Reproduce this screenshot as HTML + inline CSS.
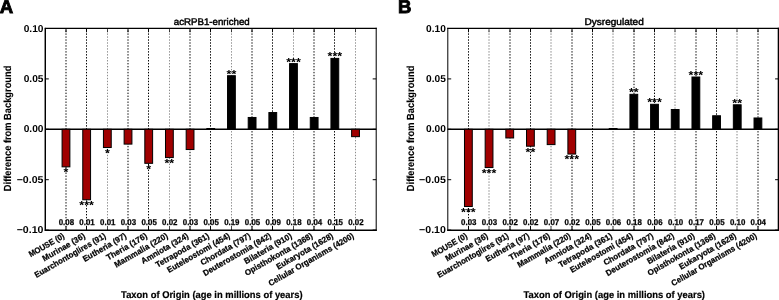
<!DOCTYPE html>
<html><head><meta charset="utf-8"><style>
html,body{margin:0;padding:0;background:#fff;width:779px;height:300px;overflow:hidden}
svg{display:block;will-change:transform}
text{font-family:"Liberation Sans",sans-serif;fill:#000;text-rendering:geometricPrecision}
</style></head><body>
<svg width="779" height="300" viewBox="0 0 779 300" font-family="Liberation Sans, sans-serif"><path d="M66 230.25V28.45M86.5 230.25V28.45M128 230.25V28.45M148.5 230.25V28.45M190 230.25V28.45M210.5 230.25V28.45M252 230.25V28.45M272.5 230.25V28.45M314 230.25V28.45M334.5 230.25V28.45" stroke="#000" stroke-width="1.0" stroke-dasharray="1.4 1.560" stroke-dashoffset="-0.070" fill="none"/>
<path d="M107.5 230.25V28.45M169.5 230.25V28.45M231.5 230.25V28.45M293.5 230.25V28.45M355.5 230.25V28.45" stroke="#000" stroke-width="0.45" stroke-dasharray="1.4 1.560" stroke-dashoffset="-0.070" fill="none"/>
<path d="M45.3 129.3H376.2" stroke="#000" stroke-width="1.4"/>
<rect x="62.08" y="129.30" width="7.80" height="37.54" fill="#a00000" stroke="#000" stroke-width="1"/>
<rect x="82.76" y="129.30" width="7.80" height="70.46" fill="#a00000" stroke="#000" stroke-width="1"/>
<rect x="103.44" y="129.30" width="7.80" height="18.22" fill="#a00000" stroke="#000" stroke-width="1"/>
<rect x="124.12" y="129.30" width="7.80" height="14.80" fill="#a00000" stroke="#000" stroke-width="1"/>
<rect x="144.81" y="129.30" width="7.80" height="34.02" fill="#a00000" stroke="#000" stroke-width="1"/>
<rect x="165.49" y="129.30" width="7.80" height="28.28" fill="#a00000" stroke="#000" stroke-width="1"/>
<rect x="186.17" y="129.30" width="7.80" height="20.23" fill="#a00000" stroke="#000" stroke-width="1"/>
<rect x="206.85" y="128.50" width="7.80" height="0.80" fill="#000" stroke="#000" stroke-width="1"/>
<rect x="227.53" y="75.70" width="7.80" height="53.60" fill="#000" stroke="#000" stroke-width="1"/>
<rect x="248.21" y="117.47" width="7.80" height="11.83" fill="#000" stroke="#000" stroke-width="1"/>
<rect x="268.89" y="112.54" width="7.80" height="16.76" fill="#000" stroke="#000" stroke-width="1"/>
<rect x="289.57" y="63.62" width="7.80" height="65.68" fill="#000" stroke="#000" stroke-width="1"/>
<rect x="310.26" y="117.47" width="7.80" height="11.83" fill="#000" stroke="#000" stroke-width="1"/>
<rect x="330.94" y="58.39" width="7.80" height="70.91" fill="#000" stroke="#000" stroke-width="1"/>
<rect x="351.62" y="129.30" width="7.80" height="7.35" fill="#a00000" stroke="#000" stroke-width="1"/>
<path d="M66 230.25v-4M66 28.45v3.8" stroke="#000" stroke-width="1.0"/>
<path d="M86.5 230.25v-4M86.5 28.45v3.8" stroke="#000" stroke-width="1.0"/>
<path d="M107.5 230.25v-4M107.5 28.45v3.8" stroke="#000" stroke-width="0.7"/>
<path d="M128 230.25v-4M128 28.45v3.8" stroke="#000" stroke-width="1.0"/>
<path d="M148.5 230.25v-4M148.5 28.45v3.8" stroke="#000" stroke-width="1.0"/>
<path d="M169.5 230.25v-4M169.5 28.45v3.8" stroke="#000" stroke-width="0.7"/>
<path d="M190 230.25v-4M190 28.45v3.8" stroke="#000" stroke-width="1.0"/>
<path d="M210.5 230.25v-4M210.5 28.45v3.8" stroke="#000" stroke-width="1.0"/>
<path d="M231.5 230.25v-4M231.5 28.45v3.8" stroke="#000" stroke-width="0.7"/>
<path d="M252 230.25v-4M252 28.45v3.8" stroke="#000" stroke-width="1.0"/>
<path d="M272.5 230.25v-4M272.5 28.45v3.8" stroke="#000" stroke-width="1.0"/>
<path d="M293.5 230.25v-4M293.5 28.45v3.8" stroke="#000" stroke-width="0.7"/>
<path d="M314 230.25v-4M314 28.45v3.8" stroke="#000" stroke-width="1.0"/>
<path d="M334.5 230.25v-4M334.5 28.45v3.8" stroke="#000" stroke-width="1.0"/>
<path d="M355.5 230.25v-4M355.5 28.45v3.8" stroke="#000" stroke-width="0.7"/>
<path d="M45.3 28.50h3.5M376.2 28.50h-3.5M45.3 78.90h3.5M376.2 78.90h-3.5M45.3 129.30h3.5M376.2 129.30h-3.5M45.3 179.70h3.5M376.2 179.70h-3.5M45.3 230.10h3.5M376.2 230.10h-3.5" stroke="#000" stroke-width="1.0"/>
<path d="M44.849999999999994 28.45H376.7" stroke="#000" stroke-width="1.3"/>
<path d="M44.849999999999994 230.25H376.7" stroke="#000" stroke-width="1.5"/>
<path d="M45.28 27.849999999999998V230.95" stroke="#000" stroke-width="1.45"/>
<path d="M376.2 27.849999999999998V230.95" stroke="#000" stroke-width="1.03"/>
<text x="65.98" y="176.27" font-size="11.7" font-weight="bold" text-anchor="middle" textLength="4.86" lengthAdjust="spacingAndGlyphs">*</text>
<text x="86.66" y="209.18" font-size="11.7" font-weight="bold" text-anchor="middle" textLength="14.58" lengthAdjust="spacingAndGlyphs">***</text>
<text x="107.34" y="156.94" font-size="11.7" font-weight="bold" text-anchor="middle" textLength="4.86" lengthAdjust="spacingAndGlyphs">*</text>
<text x="148.71" y="172.75" font-size="11.7" font-weight="bold" text-anchor="middle" textLength="4.86" lengthAdjust="spacingAndGlyphs">*</text>
<text x="169.39" y="167.01" font-size="11.7" font-weight="bold" text-anchor="middle" textLength="9.72" lengthAdjust="spacingAndGlyphs">**</text>
<text x="231.43" y="77.58" font-size="11.7" font-weight="bold" text-anchor="middle" textLength="9.72" lengthAdjust="spacingAndGlyphs">**</text>
<text x="293.47" y="65.50" font-size="11.7" font-weight="bold" text-anchor="middle" textLength="14.58" lengthAdjust="spacingAndGlyphs">***</text>
<text x="334.84" y="60.26" font-size="11.7" font-weight="bold" text-anchor="middle" textLength="14.58" lengthAdjust="spacingAndGlyphs">***</text>
<text x="66.38" y="225.00" font-size="8.4" font-weight="bold" text-anchor="middle" textLength="15.40" lengthAdjust="spacingAndGlyphs" stroke="#000" stroke-width="0.25">0.08</text>
<text x="87.06" y="225.00" font-size="8.4" font-weight="bold" text-anchor="middle" textLength="15.40" lengthAdjust="spacingAndGlyphs" stroke="#000" stroke-width="0.25">0.01</text>
<text x="107.74" y="225.00" font-size="8.4" font-weight="bold" text-anchor="middle" textLength="15.40" lengthAdjust="spacingAndGlyphs" stroke="#000" stroke-width="0.25">0.01</text>
<text x="128.42" y="225.00" font-size="8.4" font-weight="bold" text-anchor="middle" textLength="15.40" lengthAdjust="spacingAndGlyphs" stroke="#000" stroke-width="0.25">0.03</text>
<text x="149.11" y="225.00" font-size="8.4" font-weight="bold" text-anchor="middle" textLength="15.40" lengthAdjust="spacingAndGlyphs" stroke="#000" stroke-width="0.25">0.05</text>
<text x="169.79" y="225.00" font-size="8.4" font-weight="bold" text-anchor="middle" textLength="15.40" lengthAdjust="spacingAndGlyphs" stroke="#000" stroke-width="0.25">0.02</text>
<text x="190.47" y="225.00" font-size="8.4" font-weight="bold" text-anchor="middle" textLength="15.40" lengthAdjust="spacingAndGlyphs" stroke="#000" stroke-width="0.25">0.03</text>
<text x="211.15" y="225.00" font-size="8.4" font-weight="bold" text-anchor="middle" textLength="15.40" lengthAdjust="spacingAndGlyphs" stroke="#000" stroke-width="0.25">0.05</text>
<text x="231.83" y="225.00" font-size="8.4" font-weight="bold" text-anchor="middle" textLength="15.40" lengthAdjust="spacingAndGlyphs" stroke="#000" stroke-width="0.25">0.19</text>
<text x="252.51" y="225.00" font-size="8.4" font-weight="bold" text-anchor="middle" textLength="15.40" lengthAdjust="spacingAndGlyphs" stroke="#000" stroke-width="0.25">0.05</text>
<text x="273.19" y="225.00" font-size="8.4" font-weight="bold" text-anchor="middle" textLength="15.40" lengthAdjust="spacingAndGlyphs" stroke="#000" stroke-width="0.25">0.09</text>
<text x="293.87" y="225.00" font-size="8.4" font-weight="bold" text-anchor="middle" textLength="15.40" lengthAdjust="spacingAndGlyphs" stroke="#000" stroke-width="0.25">0.18</text>
<text x="314.56" y="225.00" font-size="8.4" font-weight="bold" text-anchor="middle" textLength="15.40" lengthAdjust="spacingAndGlyphs" stroke="#000" stroke-width="0.25">0.04</text>
<text x="335.24" y="225.00" font-size="8.4" font-weight="bold" text-anchor="middle" textLength="15.40" lengthAdjust="spacingAndGlyphs" stroke="#000" stroke-width="0.25">0.15</text>
<text x="355.92" y="225.00" font-size="8.4" font-weight="bold" text-anchor="middle" textLength="15.40" lengthAdjust="spacingAndGlyphs" stroke="#000" stroke-width="0.25">0.02</text>
<text x="43.50" y="32.00" font-size="10" font-weight="bold" text-anchor="end" textLength="19.80" lengthAdjust="spacingAndGlyphs">0.10</text>
<text x="43.50" y="82.00" font-size="10" font-weight="bold" text-anchor="end" textLength="19.80" lengthAdjust="spacingAndGlyphs">0.05</text>
<text x="43.50" y="132.00" font-size="10" font-weight="bold" text-anchor="end" textLength="19.80" lengthAdjust="spacingAndGlyphs">0.00</text>
<text x="43.50" y="183.00" font-size="10" font-weight="bold" text-anchor="end" textLength="26.80" lengthAdjust="spacingAndGlyphs">−0.05</text>
<text x="43.50" y="233.00" font-size="10" font-weight="bold" text-anchor="end" textLength="26.80" lengthAdjust="spacingAndGlyphs">−0.10</text>
<text x="211.75" y="24.60" font-size="9.6" text-anchor="middle" textLength="76.00" lengthAdjust="spacingAndGlyphs" stroke="#000" stroke-width="0.45">acRPB1-enriched</text>
<g transform="translate(65.08,237.5) rotate(-30)"><text x="0" y="0" font-size="8.2" font-weight="bold" stroke="#000" stroke-width="0.25" text-anchor="end" textLength="39.72" lengthAdjust="spacingAndGlyphs">MOUSE (0)</text></g>
<g transform="translate(85.76,237.5) rotate(-30)"><text x="0" y="0" font-size="8.2" font-weight="bold" stroke="#000" stroke-width="0.25" text-anchor="end" textLength="47.93" lengthAdjust="spacingAndGlyphs">Murinae (36)</text></g>
<g transform="translate(106.44,237.5) rotate(-30)"><text x="0" y="0" font-size="8.2" font-weight="bold" stroke="#000" stroke-width="0.25" text-anchor="end" textLength="80.87" lengthAdjust="spacingAndGlyphs">Euarchontoglires (91)</text></g>
<g transform="translate(127.12,237.5) rotate(-30)"><text x="0" y="0" font-size="8.2" font-weight="bold" stroke="#000" stroke-width="0.25" text-anchor="end" textLength="49.02" lengthAdjust="spacingAndGlyphs">Eutheria (97)</text></g>
<g transform="translate(147.81,237.5) rotate(-30)"><text x="0" y="0" font-size="8.2" font-weight="bold" stroke="#000" stroke-width="0.25" text-anchor="end" textLength="45.76" lengthAdjust="spacingAndGlyphs">Theria (176)</text></g>
<g transform="translate(168.49,237.5) rotate(-30)"><text x="0" y="0" font-size="8.2" font-weight="bold" stroke="#000" stroke-width="0.25" text-anchor="end" textLength="60.32" lengthAdjust="spacingAndGlyphs">Mammalia (220)</text></g>
<g transform="translate(189.17,237.5) rotate(-30)"><text x="0" y="0" font-size="8.2" font-weight="bold" stroke="#000" stroke-width="0.25" text-anchor="end" textLength="53.20" lengthAdjust="spacingAndGlyphs">Amniota (324)</text></g>
<g transform="translate(209.85,237.5) rotate(-30)"><text x="0" y="0" font-size="8.2" font-weight="bold" stroke="#000" stroke-width="0.25" text-anchor="end" textLength="60.39" lengthAdjust="spacingAndGlyphs">Tetrapoda (361)</text></g>
<g transform="translate(230.53,237.5) rotate(-30)"><text x="0" y="0" font-size="8.2" font-weight="bold" stroke="#000" stroke-width="0.25" text-anchor="end" textLength="70.98" lengthAdjust="spacingAndGlyphs">Euteleostomi (454)</text></g>
<g transform="translate(251.21,237.5) rotate(-30)"><text x="0" y="0" font-size="8.2" font-weight="bold" stroke="#000" stroke-width="0.25" text-anchor="end" textLength="56.23" lengthAdjust="spacingAndGlyphs">Chordata (797)</text></g>
<g transform="translate(271.89,237.5) rotate(-30)"><text x="0" y="0" font-size="8.2" font-weight="bold" stroke="#000" stroke-width="0.25" text-anchor="end" textLength="77.39" lengthAdjust="spacingAndGlyphs">Deuterostomia (842)</text></g>
<g transform="translate(292.57,237.5) rotate(-30)"><text x="0" y="0" font-size="8.2" font-weight="bold" stroke="#000" stroke-width="0.25" text-anchor="end" textLength="53.72" lengthAdjust="spacingAndGlyphs">Bilateria (910)</text></g>
<g transform="translate(313.26,237.5) rotate(-30)"><text x="0" y="0" font-size="8.2" font-weight="bold" stroke="#000" stroke-width="0.25" text-anchor="end" textLength="76.84" lengthAdjust="spacingAndGlyphs">Opisthokonta (1368)</text></g>
<g transform="translate(333.94,237.5) rotate(-30)"><text x="0" y="0" font-size="8.2" font-weight="bold" stroke="#000" stroke-width="0.25" text-anchor="end" textLength="64.45" lengthAdjust="spacingAndGlyphs">Eukaryota (1628)</text></g>
<g transform="translate(354.62,237.5) rotate(-30)"><text x="0" y="0" font-size="8.2" font-weight="bold" stroke="#000" stroke-width="0.25" text-anchor="end" textLength="97.25" lengthAdjust="spacingAndGlyphs">Cellular Organisms (4200)</text></g>
<text x="211.85" y="298.00" font-size="9.8" font-weight="bold" text-anchor="middle" textLength="181.50" lengthAdjust="spacingAndGlyphs" stroke="#000" stroke-width="0.2">Taxon of Origin (age in millions of years)</text>
<g transform="translate(11,128.4) rotate(-90)"><text x="0" y="0" font-size="10.3" font-weight="bold" text-anchor="middle" textLength="125.5" lengthAdjust="spacingAndGlyphs" stroke="#000" stroke-width="0.1">Difference from Background</text></g>
<path d="M468.5 230.25V28.45M510 230.25V28.45M530.5 230.25V28.45M572 230.25V28.45M592.5 230.25V28.45M634 230.25V28.45M654.5 230.25V28.45M696 230.25V28.45M716.5 230.25V28.45M758 230.25V28.45" stroke="#000" stroke-width="1.0" stroke-dasharray="1.4 1.560" stroke-dashoffset="-0.070" fill="none"/>
<path d="M489 230.25V28.45M551 230.25V28.45M613 230.25V28.45M675 230.25V28.45M737 230.25V28.45" stroke="#000" stroke-width="0.5" stroke-dasharray="1.4 1.560" stroke-dashoffset="-0.070" fill="none"/>
<path d="M447.7 129.3H778.5999999999999" stroke="#000" stroke-width="1.4"/>
<rect x="464.48" y="129.30" width="7.80" height="77.20" fill="#a00000" stroke="#000" stroke-width="1"/>
<rect x="485.16" y="129.30" width="7.80" height="38.25" fill="#a00000" stroke="#000" stroke-width="1"/>
<rect x="505.84" y="129.30" width="7.80" height="8.66" fill="#a00000" stroke="#000" stroke-width="1"/>
<rect x="526.52" y="129.30" width="7.80" height="16.91" fill="#a00000" stroke="#000" stroke-width="1"/>
<rect x="547.21" y="129.30" width="7.80" height="15.30" fill="#a00000" stroke="#000" stroke-width="1"/>
<rect x="567.89" y="129.30" width="7.80" height="24.76" fill="#a00000" stroke="#000" stroke-width="1"/>
<rect x="609.25" y="128.50" width="7.80" height="0.80" fill="#000" stroke="#000" stroke-width="1"/>
<rect x="629.93" y="94.32" width="7.80" height="34.98" fill="#000" stroke="#000" stroke-width="1"/>
<rect x="650.61" y="104.29" width="7.80" height="25.01" fill="#000" stroke="#000" stroke-width="1"/>
<rect x="671.29" y="109.52" width="7.80" height="19.78" fill="#000" stroke="#000" stroke-width="1"/>
<rect x="691.98" y="77.01" width="7.80" height="52.29" fill="#000" stroke="#000" stroke-width="1"/>
<rect x="712.66" y="115.76" width="7.80" height="13.54" fill="#000" stroke="#000" stroke-width="1"/>
<rect x="733.34" y="104.79" width="7.80" height="24.51" fill="#000" stroke="#000" stroke-width="1"/>
<rect x="754.02" y="117.98" width="7.80" height="11.32" fill="#000" stroke="#000" stroke-width="1"/>
<path d="M468.5 230.25v-4M468.5 28.45v3.8" stroke="#000" stroke-width="1.0"/>
<path d="M489 230.25v-4M489 28.45v3.8" stroke="#000" stroke-width="0.7"/>
<path d="M510 230.25v-4M510 28.45v3.8" stroke="#000" stroke-width="1.0"/>
<path d="M530.5 230.25v-4M530.5 28.45v3.8" stroke="#000" stroke-width="1.0"/>
<path d="M551 230.25v-4M551 28.45v3.8" stroke="#000" stroke-width="0.7"/>
<path d="M572 230.25v-4M572 28.45v3.8" stroke="#000" stroke-width="1.0"/>
<path d="M592.5 230.25v-4M592.5 28.45v3.8" stroke="#000" stroke-width="1.0"/>
<path d="M613 230.25v-4M613 28.45v3.8" stroke="#000" stroke-width="0.7"/>
<path d="M634 230.25v-4M634 28.45v3.8" stroke="#000" stroke-width="1.0"/>
<path d="M654.5 230.25v-4M654.5 28.45v3.8" stroke="#000" stroke-width="1.0"/>
<path d="M675 230.25v-4M675 28.45v3.8" stroke="#000" stroke-width="0.7"/>
<path d="M696 230.25v-4M696 28.45v3.8" stroke="#000" stroke-width="1.0"/>
<path d="M716.5 230.25v-4M716.5 28.45v3.8" stroke="#000" stroke-width="1.0"/>
<path d="M737 230.25v-4M737 28.45v3.8" stroke="#000" stroke-width="0.7"/>
<path d="M758 230.25v-4M758 28.45v3.8" stroke="#000" stroke-width="1.0"/>
<path d="M447.7 28.50h3.5M778.5999999999999 28.50h-3.5M447.7 78.90h3.5M778.5999999999999 78.90h-3.5M447.7 129.30h3.5M778.5999999999999 129.30h-3.5M447.7 179.70h3.5M778.5999999999999 179.70h-3.5M447.7 230.10h3.5M778.5999999999999 230.10h-3.5" stroke="#000" stroke-width="1.0"/>
<path d="M447.25 28.45H779.0999999999999" stroke="#000" stroke-width="1.3"/>
<path d="M447.25 230.25H779.0999999999999" stroke="#000" stroke-width="1.5"/>
<path d="M447.8 27.849999999999998V230.95" stroke="#000" stroke-width="1.0"/>
<path d="M778.35 27.849999999999998V230.95" stroke="#000" stroke-width="1.3"/>
<text x="468.38" y="215.92" font-size="11.7" font-weight="bold" text-anchor="middle" textLength="14.58" lengthAdjust="spacingAndGlyphs">***</text>
<text x="489.06" y="176.97" font-size="11.7" font-weight="bold" text-anchor="middle" textLength="14.58" lengthAdjust="spacingAndGlyphs">***</text>
<text x="530.42" y="155.63" font-size="11.7" font-weight="bold" text-anchor="middle" textLength="9.72" lengthAdjust="spacingAndGlyphs">**</text>
<text x="571.79" y="163.49" font-size="11.7" font-weight="bold" text-anchor="middle" textLength="14.58" lengthAdjust="spacingAndGlyphs">***</text>
<text x="633.83" y="96.20" font-size="11.7" font-weight="bold" text-anchor="middle" textLength="9.72" lengthAdjust="spacingAndGlyphs">**</text>
<text x="654.51" y="106.16" font-size="11.7" font-weight="bold" text-anchor="middle" textLength="14.58" lengthAdjust="spacingAndGlyphs">***</text>
<text x="695.88" y="78.88" font-size="11.7" font-weight="bold" text-anchor="middle" textLength="14.58" lengthAdjust="spacingAndGlyphs">***</text>
<text x="737.24" y="106.66" font-size="11.7" font-weight="bold" text-anchor="middle" textLength="9.72" lengthAdjust="spacingAndGlyphs">**</text>
<text x="468.78" y="225.00" font-size="8.4" font-weight="bold" text-anchor="middle" textLength="15.40" lengthAdjust="spacingAndGlyphs" stroke="#000" stroke-width="0.25">0.03</text>
<text x="489.46" y="225.00" font-size="8.4" font-weight="bold" text-anchor="middle" textLength="15.40" lengthAdjust="spacingAndGlyphs" stroke="#000" stroke-width="0.25">0.03</text>
<text x="510.14" y="225.00" font-size="8.4" font-weight="bold" text-anchor="middle" textLength="15.40" lengthAdjust="spacingAndGlyphs" stroke="#000" stroke-width="0.25">0.02</text>
<text x="530.82" y="225.00" font-size="8.4" font-weight="bold" text-anchor="middle" textLength="15.40" lengthAdjust="spacingAndGlyphs" stroke="#000" stroke-width="0.25">0.02</text>
<text x="551.51" y="225.00" font-size="8.4" font-weight="bold" text-anchor="middle" textLength="15.40" lengthAdjust="spacingAndGlyphs" stroke="#000" stroke-width="0.25">0.07</text>
<text x="572.19" y="225.00" font-size="8.4" font-weight="bold" text-anchor="middle" textLength="15.40" lengthAdjust="spacingAndGlyphs" stroke="#000" stroke-width="0.25">0.02</text>
<text x="592.87" y="225.00" font-size="8.4" font-weight="bold" text-anchor="middle" textLength="15.40" lengthAdjust="spacingAndGlyphs" stroke="#000" stroke-width="0.25">0.05</text>
<text x="613.55" y="225.00" font-size="8.4" font-weight="bold" text-anchor="middle" textLength="15.40" lengthAdjust="spacingAndGlyphs" stroke="#000" stroke-width="0.25">0.06</text>
<text x="634.23" y="225.00" font-size="8.4" font-weight="bold" text-anchor="middle" textLength="15.40" lengthAdjust="spacingAndGlyphs" stroke="#000" stroke-width="0.25">0.18</text>
<text x="654.91" y="225.00" font-size="8.4" font-weight="bold" text-anchor="middle" textLength="15.40" lengthAdjust="spacingAndGlyphs" stroke="#000" stroke-width="0.25">0.06</text>
<text x="675.59" y="225.00" font-size="8.4" font-weight="bold" text-anchor="middle" textLength="15.40" lengthAdjust="spacingAndGlyphs" stroke="#000" stroke-width="0.25">0.10</text>
<text x="696.27" y="225.00" font-size="8.4" font-weight="bold" text-anchor="middle" textLength="15.40" lengthAdjust="spacingAndGlyphs" stroke="#000" stroke-width="0.25">0.17</text>
<text x="716.96" y="225.00" font-size="8.4" font-weight="bold" text-anchor="middle" textLength="15.40" lengthAdjust="spacingAndGlyphs" stroke="#000" stroke-width="0.25">0.05</text>
<text x="737.64" y="225.00" font-size="8.4" font-weight="bold" text-anchor="middle" textLength="15.40" lengthAdjust="spacingAndGlyphs" stroke="#000" stroke-width="0.25">0.10</text>
<text x="758.32" y="225.00" font-size="8.4" font-weight="bold" text-anchor="middle" textLength="15.40" lengthAdjust="spacingAndGlyphs" stroke="#000" stroke-width="0.25">0.04</text>
<text x="445.90" y="32.00" font-size="10" font-weight="bold" text-anchor="end" textLength="19.80" lengthAdjust="spacingAndGlyphs">0.10</text>
<text x="445.90" y="82.00" font-size="10" font-weight="bold" text-anchor="end" textLength="19.80" lengthAdjust="spacingAndGlyphs">0.05</text>
<text x="445.90" y="132.00" font-size="10" font-weight="bold" text-anchor="end" textLength="19.80" lengthAdjust="spacingAndGlyphs">0.00</text>
<text x="445.90" y="183.00" font-size="10" font-weight="bold" text-anchor="end" textLength="26.80" lengthAdjust="spacingAndGlyphs">−0.05</text>
<text x="445.90" y="233.00" font-size="10" font-weight="bold" text-anchor="end" textLength="26.80" lengthAdjust="spacingAndGlyphs">−0.10</text>
<text x="614.15" y="24.60" font-size="9.6" text-anchor="middle" textLength="59.20" lengthAdjust="spacingAndGlyphs" stroke="#000" stroke-width="0.45">Dysregulated</text>
<g transform="translate(467.98,237.5) rotate(-30)"><text x="0" y="0" font-size="8.2" font-weight="bold" stroke="#000" stroke-width="0.25" text-anchor="end" textLength="39.72" lengthAdjust="spacingAndGlyphs">MOUSE (0)</text></g>
<g transform="translate(488.66,237.5) rotate(-30)"><text x="0" y="0" font-size="8.2" font-weight="bold" stroke="#000" stroke-width="0.25" text-anchor="end" textLength="47.93" lengthAdjust="spacingAndGlyphs">Murinae (36)</text></g>
<g transform="translate(509.34,237.5) rotate(-30)"><text x="0" y="0" font-size="8.2" font-weight="bold" stroke="#000" stroke-width="0.25" text-anchor="end" textLength="80.87" lengthAdjust="spacingAndGlyphs">Euarchontoglires (91)</text></g>
<g transform="translate(530.02,237.5) rotate(-30)"><text x="0" y="0" font-size="8.2" font-weight="bold" stroke="#000" stroke-width="0.25" text-anchor="end" textLength="49.02" lengthAdjust="spacingAndGlyphs">Eutheria (97)</text></g>
<g transform="translate(550.71,237.5) rotate(-30)"><text x="0" y="0" font-size="8.2" font-weight="bold" stroke="#000" stroke-width="0.25" text-anchor="end" textLength="45.76" lengthAdjust="spacingAndGlyphs">Theria (176)</text></g>
<g transform="translate(571.39,237.5) rotate(-30)"><text x="0" y="0" font-size="8.2" font-weight="bold" stroke="#000" stroke-width="0.25" text-anchor="end" textLength="60.32" lengthAdjust="spacingAndGlyphs">Mammalia (220)</text></g>
<g transform="translate(592.07,237.5) rotate(-30)"><text x="0" y="0" font-size="8.2" font-weight="bold" stroke="#000" stroke-width="0.25" text-anchor="end" textLength="53.20" lengthAdjust="spacingAndGlyphs">Amniota (324)</text></g>
<g transform="translate(612.75,237.5) rotate(-30)"><text x="0" y="0" font-size="8.2" font-weight="bold" stroke="#000" stroke-width="0.25" text-anchor="end" textLength="60.39" lengthAdjust="spacingAndGlyphs">Tetrapoda (361)</text></g>
<g transform="translate(633.43,237.5) rotate(-30)"><text x="0" y="0" font-size="8.2" font-weight="bold" stroke="#000" stroke-width="0.25" text-anchor="end" textLength="70.98" lengthAdjust="spacingAndGlyphs">Euteleostomi (454)</text></g>
<g transform="translate(654.11,237.5) rotate(-30)"><text x="0" y="0" font-size="8.2" font-weight="bold" stroke="#000" stroke-width="0.25" text-anchor="end" textLength="56.23" lengthAdjust="spacingAndGlyphs">Chordata (797)</text></g>
<g transform="translate(674.79,237.5) rotate(-30)"><text x="0" y="0" font-size="8.2" font-weight="bold" stroke="#000" stroke-width="0.25" text-anchor="end" textLength="77.39" lengthAdjust="spacingAndGlyphs">Deuterostomia (842)</text></g>
<g transform="translate(695.48,237.5) rotate(-30)"><text x="0" y="0" font-size="8.2" font-weight="bold" stroke="#000" stroke-width="0.25" text-anchor="end" textLength="53.72" lengthAdjust="spacingAndGlyphs">Bilateria (910)</text></g>
<g transform="translate(716.16,237.5) rotate(-30)"><text x="0" y="0" font-size="8.2" font-weight="bold" stroke="#000" stroke-width="0.25" text-anchor="end" textLength="76.84" lengthAdjust="spacingAndGlyphs">Opisthokonta (1368)</text></g>
<g transform="translate(736.84,237.5) rotate(-30)"><text x="0" y="0" font-size="8.2" font-weight="bold" stroke="#000" stroke-width="0.25" text-anchor="end" textLength="64.45" lengthAdjust="spacingAndGlyphs">Eukaryota (1628)</text></g>
<g transform="translate(757.52,237.5) rotate(-30)"><text x="0" y="0" font-size="8.2" font-weight="bold" stroke="#000" stroke-width="0.25" text-anchor="end" textLength="97.25" lengthAdjust="spacingAndGlyphs">Cellular Organisms (4200)</text></g>
<text x="614.25" y="298.00" font-size="9.8" font-weight="bold" text-anchor="middle" textLength="181.50" lengthAdjust="spacingAndGlyphs" stroke="#000" stroke-width="0.2">Taxon of Origin (age in millions of years)</text>
<g transform="translate(414.2,128.4) rotate(-90)"><text x="0" y="0" font-size="10.3" font-weight="bold" text-anchor="middle" textLength="125.5" lengthAdjust="spacingAndGlyphs" stroke="#000" stroke-width="0.1">Difference from Background</text></g>
<text x="-0.20" y="13.00" font-size="18.6" font-weight="bold" text-anchor="start" stroke="#000" stroke-width="0.9">A</text>
<text x="398.00" y="13.00" font-size="18.6" font-weight="bold" text-anchor="start" stroke="#000" stroke-width="0.9">B</text></svg>
</body></html>
